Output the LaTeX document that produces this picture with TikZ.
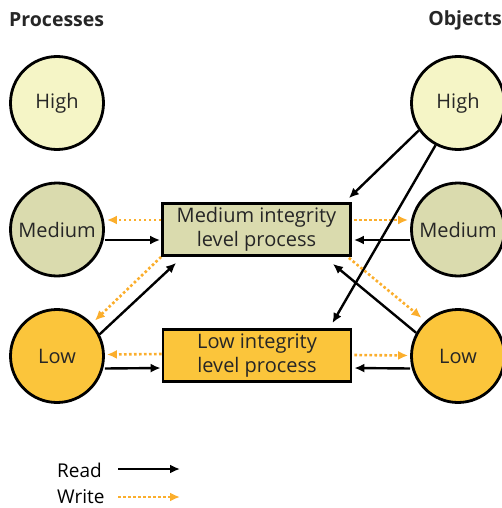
\documentclass[tikz,border=0pt]{standalone}
\usepackage{fontspec}
\setmainfont{Open Sans}
\usetikzlibrary{arrows.meta}
\definecolor{hifill}{HTML}{F5F5C6}
\definecolor{mefill}{HTML}{DADBAE}
\definecolor{lofill}{HTML}{FBC53B}
\definecolor{wrcol}{HTML}{FBAE2C}
\definecolor{txt}{HTML}{262626}
\begin{document}
\begin{tikzpicture}[x=1pt,y=-1pt,
  lvl/.style={circle,draw=black,line width=2.8pt,minimum size=93pt,inner sep=0pt,text=txt,font=\fontsize{20}{24}\selectfont},
  procbox/.style={rectangle,draw=black,line width=2.8pt,minimum width=188pt,minimum height=52pt,inner sep=0pt,align=center,text=txt,font=\fontsize{20}{24}\selectfont},
  rd/.style={draw=black,line width=2.4pt,-{Latex[length=10pt,width=9pt]}},
  wr/.style={draw=wrcol,line width=2.6pt,dash pattern=on 2.6pt off 2.4pt,-{Latex[length=10pt,width=9pt]}},
  hdr/.style={font=\bfseries\fontsize{19.5}{23}\selectfont,text=txt,inner sep=0pt},
  leg/.style={font=\fontsize{19}{22}\selectfont,text=black,inner sep=0pt,anchor=west}]
\useasboundingbox (0,0) rectangle (501,508);
% headers
\node[hdr,anchor=west] (hp) at (9,20) {Processes};
\node[hdr,anchor=east] (ho) at (502,20) {Objects};
% circles
\node[lvl,fill=hifill] (lh) at (57,103) {High};
\node[lvl,fill=mefill] (lm) at (57,229.5) {Medium};
\node[lvl,fill=lofill] (ll) at (57,356) {Low};
\node[lvl,fill=hifill] (rh) at (458,103) {High};
\node[lvl,fill=mefill] (rm) at (458,229.5) {Medium};
\node[lvl,fill=lofill] (rl) at (458,356) {Low};
% boxes
\node[procbox,fill=mefill] (mb) at (256.5,229.5) {Medium integrity\\level process};
\node[procbox,fill=lofill] (lb) at (257,355.5) {Low integrity\\level process};
% left horizontal
\draw[wr] ([yshift=9.5pt]mb.west) -- ([yshift=9.5pt,xshift=2pt]lm.east);
\draw[rd] ([yshift=-10.5pt]lm.east) -- ([yshift=-10.5pt,xshift=-1pt]mb.west);
\draw[wr] ([yshift=1.5pt]lb.west) -- ([yshift=1.5pt,xshift=2pt]ll.east);
\draw[rd] ([yshift=-12.5pt]ll.east) -- ([yshift=-12.5pt,xshift=-1pt]lb.west);
% right horizontal
\draw[wr] ([yshift=9.5pt,xshift=2pt]mb.east) -- ([yshift=9.5pt,xshift=-2pt]rm.west);
\draw[rd] ([yshift=-10.5pt]rm.west) -- ([yshift=-10.5pt,xshift=2pt]mb.east);
\draw[wr] ([yshift=0.5pt,xshift=2pt]lb.east) -- ([yshift=0.5pt,xshift=-2pt]rl.west);
\draw[rd] ([yshift=-12.5pt]rl.west) -- ([yshift=-12.5pt,xshift=2pt]lb.east);
% left diagonals
\draw[wr,shorten >=4pt] (mb.south west) -- (ll.43);
\draw[rd] (ll.27) -- ([xshift=15pt,yshift=-6pt]mb.south west);
% right diagonals
\draw[rd] (rh.215) -- ([xshift=-3pt,yshift=4pt]mb.north east);
\draw[rd] (rh.242) -- ([xshift=-20pt,yshift=5pt]lb.north east);
\draw[wr,shorten >=5pt] ([xshift=-3pt,yshift=-1pt]mb.south east) -- (rl.133);
\draw[rd] (rl.151) -- ([xshift=-19pt,yshift=-7pt]mb.south east);
% legend
\node[leg] (lr) at (57,470) {Read};
\node[leg] (lw) at (57,497) {Write};
\coordinate (r1) at (118,469);
\coordinate (r2) at (180,469);
\coordinate (w1) at (118,497);
\coordinate (w2) at (180,497);
\draw[rd] (r1) -- (r2);
\draw[wr] (w1) -- (w2);
\end{tikzpicture}
\end{document}
